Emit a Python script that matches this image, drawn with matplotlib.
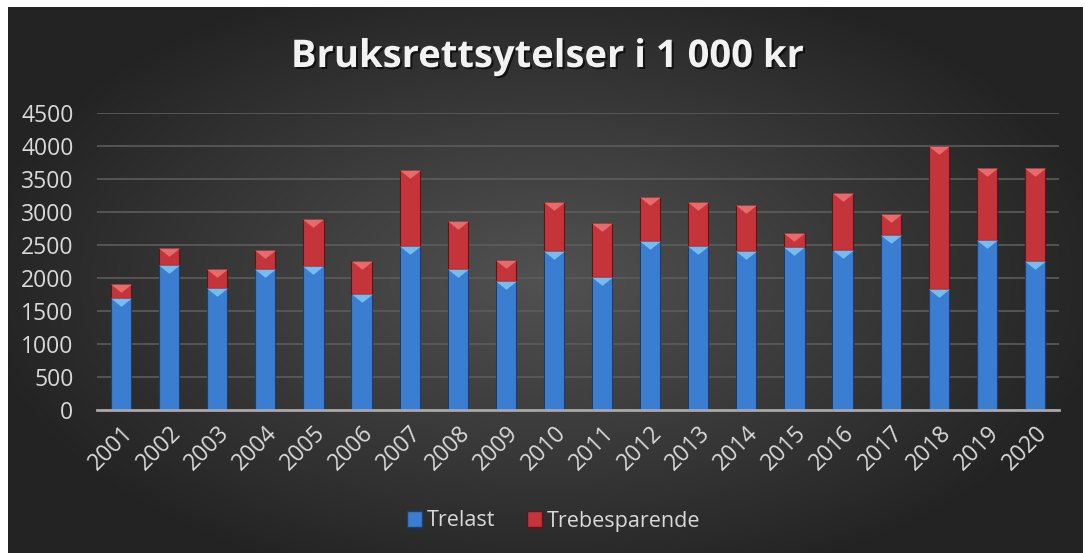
import numpy as np
import matplotlib.pyplot as plt
import matplotlib.patheffects as pe
from matplotlib.patches import Patch

years = [str(y) for y in range(2001, 2021)]
trelast = [1700, 2190, 1850, 2140, 2175, 1760, 2490, 2140, 1960, 2410,
           2015, 2560, 2490, 2410, 2470, 2430, 2645, 1840, 2580, 2260]
totals = [1910, 2450, 2130, 2420, 2890, 2265, 3630, 2870, 2280, 3155,
          2840, 3220, 3150, 3100, 2675, 3295, 2965, 4000, 3660, 3660]
trebesparende = [t - b for t, b in zip(totals, trelast)]

blue = '#3b7dd0'
red = '#c5343a'
text_col = '#d9d9d9'

plt.rcParams['font.family'] = ['Open Sans', 'DejaVu Sans']

fig = plt.figure(figsize=(10.85, 5.53), dpi=100)
fig.patch.set_facecolor('white')

# dark radial gradient background
bg = fig.add_axes([8 / 1085, 0, 1075 / 1085, 546 / 553])
yy, xx = np.mgrid[-1:1:300j, -1:1:600j]
r = np.sqrt((xx / 1.0) ** 2 + (yy / 1.1) ** 2)
shade = np.clip(0.32 - 0.17 * r, 0.14, 0.32)
bg.imshow(np.dstack([shade] * 3), aspect='auto', extent=[0, 1, 0, 1])
bg.set_axis_off()

ax = fig.add_axes([97 / 1085, 1 - 410 / 553, (1059 - 97) / 1085, (410 - 113) / 553])
ax.set_facecolor('none')
x = np.arange(len(years))
w = 0.42

ax.bar(x, trelast, w, color=blue, edgecolor='#1c3f6e', linewidth=0.8, zorder=3)
ax.bar(x, trebesparende, w, bottom=trelast, color=red, edgecolor='#5e1518',
       linewidth=0.8, zorder=3)

# bevel highlights at top of each segment
tri = [(-1, 0), (1, 0), (0, -0.8), (-1, 0)]
ax.scatter(x, trelast, marker=tri, s=15 ** 2, color='#74bdf2', linewidths=0, zorder=4)
ax.scatter(x, totals, marker=tri, s=15 ** 2, color='#e86a6a', linewidths=0, zorder=4)

ax.set_xlim(-0.5, len(years) - 0.5)
ax.set_ylim(0, 4500)
ax.set_yticks(np.arange(0, 4501, 500))
ax.yaxis.grid(True, color='#5c5c5c', linewidth=1.2, zorder=0)
ax.set_axisbelow(True)
for s in ['top', 'right', 'left']:
    ax.spines[s].set_visible(False)
ax.spines['bottom'].set_color('#a8a8a8')
ax.spines['bottom'].set_linewidth(2)
ax.spines['bottom'].set_zorder(5)
ax.tick_params(axis='both', length=0, colors=text_col, labelsize=16.5)
ax.tick_params(axis='y', pad=17)
ax.set_xticks(x)
ax.set_xticklabels(years, rotation=45, ha='right', va='top', rotation_mode='anchor')
ax.tick_params(axis='x', pad=8)

fig.text(0.505, 1 - 57 / 553, 'Bruksrettsytelser i 1 000 kr', ha='center', va='center',
         fontsize=27.5, fontweight='bold', color='#f2f2f2',
         path_effects=[pe.withSimplePatchShadow(offset=(1.5, -1.5), shadow_rgbFace='black', alpha=0.6)])

handles = [Patch(facecolor=blue, edgecolor='#1c3f6e'), Patch(facecolor=red, edgecolor='#5e1518')]
leg = fig.legend(handles, ['Trelast', 'Trebesparende'], loc='center', bbox_to_anchor=(0.51, 1 - 521 / 553),
                 ncol=2, frameon=False, fontsize=15.5, handlelength=0.7, handleheight=0.7,
                 handletextpad=0.2, columnspacing=1.5)
for t in leg.get_texts():
    t.set_color(text_col)

fig.savefig('out.png', dpi=100)
